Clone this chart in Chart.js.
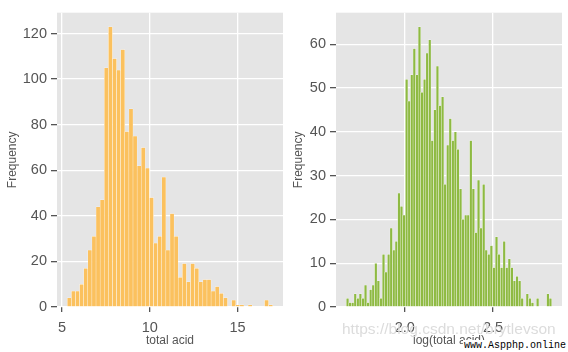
<!DOCTYPE html>
<html>
<head>
<meta charset="utf-8">
<script src="https://cdn.jsdelivr.net/npm/chart.js@4"></script>
<style>
  html, body { margin: 0; padding: 0; background: #fff; }
  #wrap { position: relative; width: 568px; height: 352px; overflow: hidden; }
  canvas { position: absolute; top: 0; }
  #acid { left: 0; }
  #logacid { left: 284px; }
  #wm1 { position: absolute; left: 342px; top: 320px; font: 15.5px "Liberation Sans", Arial, sans-serif; color: #dcdcdc; white-space: nowrap; }
  #wm2 { position: absolute; right: 1px; bottom: 1px; font: 10px "Liberation Mono", monospace; color: #000; background: #fff; padding: 0 1px; white-space: nowrap; }
</style>
</head>
<body>
<div id="wrap">
  <canvas id="acid" width="284" height="352"></canvas>
  <canvas id="logacid" width="284" height="352"></canvas>
  <div id="wm1">https://blog.csdn.net/brytlevson</div>
  <div id="wm2">www.Aspphp.online</div>
</div>
<script>
// left panel: total acid, 50 bins
const acidCounts = [
  4, 7, 7, 10, 17, 25, 31, 44, 47, 105,
  123, 109, 104, 113, 77, 87, 75, 62, 70, 61,
  48, 28, 31, 57, 25, 41, 31, 13, 19, 11,
  19, 17, 11, 12, 12, 7, 9, 6, 4, 0,
  3, 1, 1, 0, 1, 0, 0, 0, 3, 1
];
const acidRange = [5.3, 17.0];
const acidXTicks = [5, 10, 15];
const acidYTicks = [0, 20, 40, 60, 80, 100, 120];

// right panel: log(total acid), 80 bins
const logCounts = [
  2, 1, 1, 3, 2, 3, 2, 5, 1, 4,
  5, 10, 6, 2, 12, 8, 12, 18, 13, 15,
  26, 23, 21, 52, 47, 53, 59, 53, 64, 49,
  52, 58, 61, 38, 45, 55, 46, 48, 28, 37,
  43, 38, 40, 36, 27, 20, 21, 21, 38, 27,
  17, 29, 18, 28, 13, 12, 14, 9, 16, 12,
  9, 15, 9, 11, 9, 6, 7, 6, 2, 0,
  3, 2, 1, 0, 2, 0, 0, 0, 3, 2
];
const logRange = [1.668, 2.833];
const logXTicks = [2.0, 2.5];
const logYTicks = [0, 10, 20, 30, 40, 50, 60];

const FONT = '"Liberation Sans", Arial, sans-serif';
const GREY = '#555555';

const panelBg = {
  id: 'panelBg',
  beforeDraw(chart) {
    const { ctx, chartArea: a } = chart;
    ctx.save();
    ctx.fillStyle = '#E5E5E5';
    ctx.fillRect(a.left, a.top, a.width, a.height);
    ctx.restore();
  }
};

function binned(counts, range) {
  const w = (range[1] - range[0]) / counts.length;
  return counts.map((c, i) => ({ x: range[0] + w * (i + 0.5), y: c }));
}

function histChart(el, cfg) {
  const span = cfg.range[1] - cfg.range[0];
  return new Chart(el, {
    type: 'bar',
    data: {
      datasets: [{
        data: binned(cfg.counts, cfg.range),
        backgroundColor: cfg.color,
        borderColor: 'rgba(255,255,255,0.8)',
        borderWidth: 0.5,
        barPercentage: 1,
        categoryPercentage: 1
      }]
    },
    options: {
      responsive: false,
      animation: false,
      layout: { padding: { top: 7, right: cfg.padRight, left: 0, bottom: 0 } },
      plugins: { legend: { display: false }, tooltip: { enabled: false } },
      scales: {
        x: {
          type: 'linear',
          min: cfg.range[0] - 0.05 * span,
          max: cfg.range[1] + 0.05 * span,
          offset: false,
          afterBuildTicks: (s) => { s.ticks = cfg.xTicks.map((v) => ({ value: v })); },
          afterFit: (s) => { s.height = 45; },
          border: { display: false },
          grid: { color: '#ffffff', lineWidth: 1.3, tickColor: GREY, tickLength: 5, offset: false },
          ticks: { autoSkip: false, maxRotation: 0, padding: 7, color: GREY, font: { family: FONT, size: 14.5 },
                   callback: (v) => cfg.fmt(v) },
          title: { display: true, text: cfg.xTitle, color: GREY, font: { family: FONT, size: 12 },
                   padding: { top: 0, bottom: 4 } }
        },
        y: {
          min: 0,
          max: Math.max(...cfg.counts) * 1.05,
          afterBuildTicks: (s) => { s.ticks = cfg.yTicks.map((v) => ({ value: v })); },
          afterFit: (s) => { s.width = cfg.yWidth; },
          border: { display: false },
          grid: { color: '#ffffff', lineWidth: 1.3, tickColor: GREY, tickLength: 6 },
          ticks: { padding: 4, color: GREY, font: { family: FONT, size: 14.5 } },
          title: { display: true, text: 'Frequency', color: GREY, font: { family: FONT, size: 12 },
                   padding: { top: cfg.yTitlePad, bottom: 0 } }
        }
      }
    },
    plugins: [panelBg]
  });
}

histChart(document.getElementById('acid'), {
  counts: acidCounts, range: acidRange, xTicks: acidXTicks, yTicks: acidYTicks,
  color: '#FBC15E', xTitle: 'total acid', fmt: (v) => String(v),
  yWidth: 57, padRight: 1, yTitlePad: 5
});

histChart(document.getElementById('logacid'), {
  counts: logCounts, range: logRange, xTicks: logXTicks, yTicks: logYTicks,
  color: '#8EBA42', xTitle: 'log(total acid)', fmt: (v) => v.toFixed(1),
  yWidth: 52, padRight: 6, yTitlePad: 7
});
</script>
</body>
</html>
